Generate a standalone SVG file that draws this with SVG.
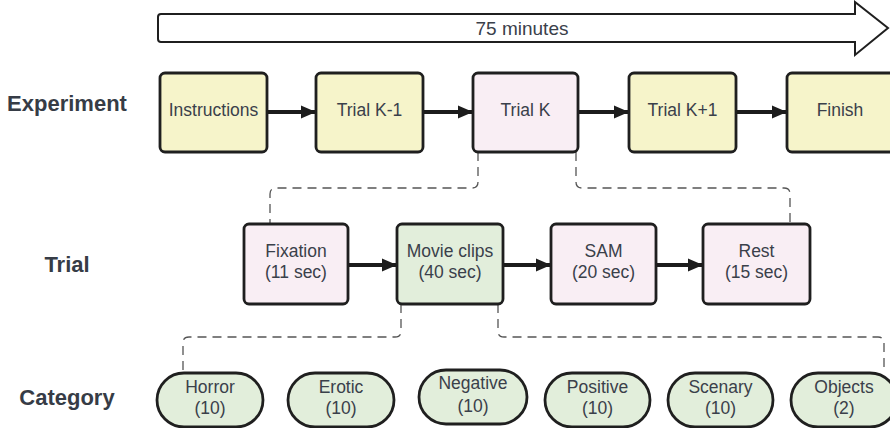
<svg xmlns="http://www.w3.org/2000/svg" width="890" height="428" viewBox="0 0 890 428">
  <style>
    .lbl { font-family: "Liberation Sans", Arial, sans-serif; font-size: 22px; font-weight: bold; fill: #363c46; text-anchor: middle; dominant-baseline: central; }
    .txt { font-family: "Liberation Sans", Arial, sans-serif; font-size: 17.5px; fill: #3a404a; text-anchor: middle; dominant-baseline: central; }
    .big { font-size: 19px; }
    .box { stroke: #1f1f1f; stroke-width: 2.8; }
    .yellow { fill: #f6f4ca; }
    .pink { fill: #f9eef4; }
    .green { fill: #e2eedb; }
    .flow { stroke: #1c1c1c; stroke-width: 4; fill: none; marker-end: url(#head); }
    .dash { stroke: #555; stroke-width: 1.3; fill: none; stroke-dasharray: 9 6; }
  </style>
  <defs>
    <marker id="head" markerUnits="userSpaceOnUse" markerWidth="16" markerHeight="16" refX="15" refY="8" orient="auto">
      <path d="M0,1.5 L15,8 L0,14.5 Z" fill="#1c1c1c"/>
    </marker>
  </defs>

  <rect width="890" height="428" fill="#ffffff"/>

  <!-- timeline arrow -->
  <g id="timeline">
    <path d="M161,14 L855,14 L855,2 L888,28 L855,55 L855,42 L161,42 Q158,42 158,39 L158,17 Q158,14 161,14 Z" fill="#ffffff" stroke="#1f1f1f" stroke-width="2"/>
    <text class="txt big" x="522" y="28">75 minutes</text>
  </g>

  <!-- row labels -->
  <text class="lbl" x="67" y="103">Experiment</text>
  <text class="lbl" x="67" y="264">Trial</text>
  <text class="lbl" x="67" y="397">Category</text>

  <!-- connectors -->
  <g id="connectors">
    <line class="flow" x1="267" y1="112" x2="316" y2="112"/>
    <line class="flow" x1="423" y1="112" x2="473" y2="112"/>
    <line class="flow" x1="578" y1="112" x2="629" y2="112"/>
    <line class="flow" x1="736" y1="112" x2="787" y2="112"/>

    <line class="flow" x1="348" y1="265" x2="397" y2="265"/>
    <line class="flow" x1="503" y1="265" x2="551" y2="265"/>
    <line class="flow" x1="656" y1="265" x2="703" y2="265"/>

    <path class="dash" d="M478,152 L478,182 Q478,188 472,188 L276,188 Q270,188 270,194 L270,224"/>
    <path class="dash" d="M576,152 L576,182 Q576,188 582,188 L784,188 Q790,188 790,194 L790,224"/>
    <path class="dash" d="M401,304 L401,331 Q401,337 395,337 L189,337 Q183,337 183,343 L183,372"/>
    <path class="dash" d="M498,304 L498,331 Q498,337 504,337 L878,337 Q884,337 884,343 L884,372"/>
  </g>

  <!-- experiment row -->
  <g id="instructions">
    <rect class="box yellow" x="160" y="73" width="107" height="79" rx="5"/>
    <text class="txt" x="213.5" y="110">Instructions</text>
  </g>
  <g id="trial-k-1">
    <rect class="box yellow" x="316" y="73" width="107" height="79" rx="5"/>
    <text class="txt" x="369.5" y="110">Trial K-1</text>
  </g>
  <g id="trial-k">
    <rect class="box pink" x="473" y="73" width="105" height="79" rx="5"/>
    <text class="txt" x="525.5" y="110">Trial K</text>
  </g>
  <g id="trial-k1">
    <rect class="box yellow" x="629" y="73" width="107" height="79" rx="5"/>
    <text class="txt" x="682.5" y="110">Trial K+1</text>
  </g>
  <g id="finish">
    <rect class="box yellow" x="787" y="73" width="110" height="79" rx="5"/>
    <text class="txt" x="840" y="110">Finish</text>
  </g>

  <!-- trial row -->
  <g id="fixation">
    <rect class="box pink" x="244" y="224" width="104" height="80" rx="5"/>
    <text class="txt" x="296" y="251">Fixation</text>
    <text class="txt" x="296" y="272">(11 sec)</text>
  </g>
  <g id="movie-clips">
    <rect class="box green" x="397" y="224" width="106" height="80" rx="5"/>
    <text class="txt" x="450" y="251">Movie clips</text>
    <text class="txt" x="450" y="272">(40 sec)</text>
  </g>
  <g id="sam">
    <rect class="box pink" x="551" y="224" width="105" height="80" rx="5"/>
    <text class="txt" x="603.5" y="251">SAM</text>
    <text class="txt" x="603.5" y="272">(20 sec)</text>
  </g>
  <g id="rest">
    <rect class="box pink" x="703" y="224" width="107" height="80" rx="5"/>
    <text class="txt" x="756.5" y="251">Rest</text>
    <text class="txt" x="756.5" y="272">(15 sec)</text>
  </g>

  <!-- category row -->
  <g id="horror">
    <rect class="box green" x="157" y="373" width="106" height="54" rx="27"/>
    <text class="txt" x="210" y="387">Horror</text>
    <text class="txt" x="210" y="408">(10)</text>
  </g>
  <g id="erotic">
    <rect class="box green" x="288" y="373" width="106" height="54" rx="27"/>
    <text class="txt" x="341" y="387">Erotic</text>
    <text class="txt" x="341" y="408">(10)</text>
  </g>
  <g id="negative">
    <rect class="box green" x="419" y="370" width="108" height="54" rx="27"/>
    <text class="txt" x="473" y="383">Negative</text>
    <text class="txt" x="473" y="406">(10)</text>
  </g>
  <g id="positive">
    <rect class="box green" x="545" y="373" width="105" height="54" rx="27"/>
    <text class="txt" x="597.5" y="387">Positive</text>
    <text class="txt" x="597.5" y="408">(10)</text>
  </g>
  <g id="scenary">
    <rect class="box green" x="668" y="373" width="105" height="54" rx="27"/>
    <text class="txt" x="720.5" y="387">Scenary</text>
    <text class="txt" x="720.5" y="408">(10)</text>
  </g>
  <g id="objects">
    <rect class="box green" x="791" y="373" width="106" height="54" rx="27"/>
    <text class="txt" x="844" y="387">Objects</text>
    <text class="txt" x="844" y="408">(2)</text>
  </g>
</svg>
